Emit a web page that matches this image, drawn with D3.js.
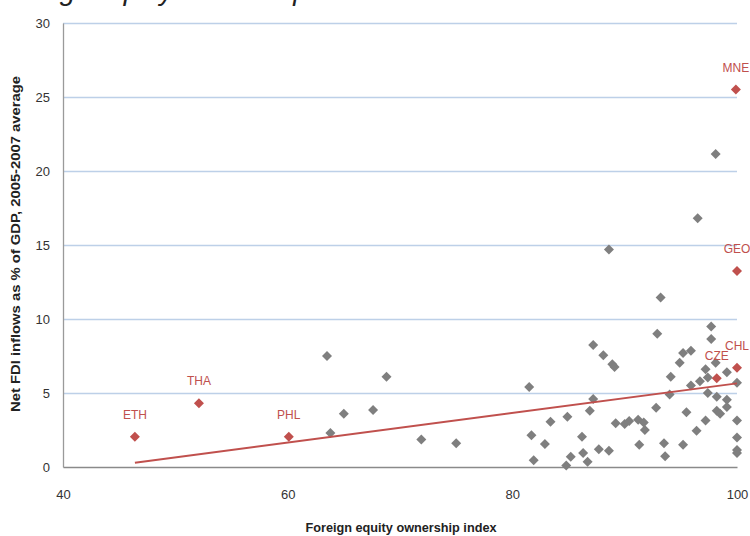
<!DOCTYPE html>
<html>
<head>
<meta charset="utf-8">
<script src="https://cdn.jsdelivr.net/npm/d3@7"></script>
<style>
  body { margin: 0; background: #fff; }
  svg { display: block; font-family: "Liberation Sans", Arial, sans-serif; }
</style>
</head>
<body>
<svg id="chart" width="750" height="536"></svg>
<script>
// foreign equity ownership index (x) vs net FDI inflows % of GDP (y)
const grayX = [63.5, 68.8, 65.0, 67.6, 63.8, 71.9, 75.0, 81.5, 81.7, 81.9, 82.9, 83.4, 84.9, 84.8, 85.2,
  86.2, 86.3, 86.7, 86.9, 87.2, 87.2, 87.7, 88.1, 88.6, 88.6, 88.9, 89.1, 89.2, 90.0, 90.4, 91.2, 91.7,
  91.8, 91.3, 92.8, 92.9, 93.2, 93.5, 93.6, 94.0, 94.1, 94.9, 95.2, 95.9, 95.2, 95.5, 95.9, 96.4, 96.5,
  96.7, 97.2, 97.2, 97.4, 97.4, 97.7, 97.7, 98.1, 98.1, 98.2, 98.2, 98.5, 99.1, 99.1, 99.1, 100, 100,
  100, 100, 100];
const grayY = [7.5, 6.1, 3.6, 3.85, 2.3, 1.85, 1.6, 5.4, 2.15, 0.45, 1.55, 3.05, 3.4, 0.1, 0.7,
  2.05, 0.95, 0.35, 3.8, 4.6, 8.25, 1.2, 7.55, 14.7, 1.1, 6.95, 6.75, 2.95, 2.9, 3.1, 3.2, 3.0,
  2.5, 1.5, 4.0, 9.0, 11.45, 1.6, 0.72, 4.9, 6.1, 7.05, 7.7, 7.85, 1.5, 3.7, 5.5, 2.45, 16.8,
  5.8, 6.6, 3.15, 6.05, 5.0, 9.5, 8.65, 21.15, 7.05, 4.75, 3.8, 3.6, 6.4, 4.55, 4.05, 5.7, 3.15,
  2.0, 1.15, 0.95];

const labelCodes = ['ETH', 'THA', 'PHL', 'CZE', 'CHL', 'GEO', 'MNE'];
const labelX = [46.4, 52.1, 60.1, 98.2, 100, 100, 99.9];
const labelY = [2.05, 4.3, 2.05, 6.0, 6.7, 13.25, 25.5];

// linear trend, drawn between its two end points
const trendX = [46.4, 100];
const trendY = [0.29, 5.65];

const yTicks = [0, 5, 10, 15, 20, 25, 30];
const xTicks = [40, 60, 80, 100];

const xTitle = 'Foreign equity ownership index';
const yTitle = 'Net FDI inflows as % of GDP, 2005-2007 average';
const chartTitle = 'Foreign equity ownership and FDI inflows';

const RED = '#c0504d';
const GRAY = '#7f7f7f';

const margin = {top: 23, right: 13, bottom: 69, left: 63};
const width = 750 - margin.left - margin.right;
const height = 536 - margin.top - margin.bottom;

const svg = d3.select('#chart');

// title is cut off at the top edge, only descenders show
svg.append('text')
    .attr('x', -4)
    .attr('y', 0)
    .attr('font-size', 28)
    .attr('font-style', 'italic')
    .attr('fill', '#222')
    .text(chartTitle);

const g = svg.append('g')
    .attr('transform', 'translate(' + margin.left + ',' + margin.top + ')');

const xScale = d3.scaleLinear().domain([40, 100]).range([0, width]);
const yScale = d3.scaleLinear().domain([0, 30]).range([height, 0]);

// gridlines
g.append('g')
    .call(d3.axisLeft(yScale).tickValues(yTicks.slice(1)).tickSize(-width).tickFormat(''))
    .call(s => s.select('.domain').remove())
    .selectAll('line')
    .attr('stroke', '#bdd0e8')
    .attr('stroke-width', 1.3);

// y axis
const yAxis = g.append('g')
    .call(d3.axisLeft(yScale).tickValues(yTicks).tickSize(0).tickPadding(13));
yAxis.select('.domain').attr('stroke', '#9a9a9a').attr('stroke-width', 1.3);
yAxis.selectAll('text').attr('font-size', 13).attr('fill', '#333')
    .attr('font-family', '"Liberation Sans", Arial, sans-serif');

// x axis
const xAxis = g.append('g')
    .attr('transform', 'translate(0,' + height + ')')
    .call(d3.axisBottom(xScale).tickValues(xTicks).tickSize(0).tickPadding(23));
xAxis.select('.domain').attr('stroke', '#8a8a8a').attr('stroke-width', 1.5);
xAxis.selectAll('text').attr('font-size', 13).attr('fill', '#333')
    .attr('font-family', '"Liberation Sans", Arial, sans-serif');

const diamond = d3.symbol().type(d3.symbolSquare).size(50);

g.selectAll('.dot.gray')
    .data(grayX)
  .enter().append('path')
    .attr('class', 'dot gray')
    .attr('d', diamond)
    .attr('fill', GRAY)
    .attr('transform', (d, i) => 'translate(' + xScale(d) + ',' + yScale(grayY[i]) + ') rotate(45)');

// trend line
const trendLine = d3.line()
    .x(d => xScale(d))
    .y((d, i) => yScale(trendY[i]));

g.append('path')
    .datum(trendX)
    .attr('d', trendLine)
    .attr('fill', 'none')
    .attr('stroke', RED)
    .attr('stroke-width', 2);

g.selectAll('.dot.red')
    .data(labelX)
  .enter().append('path')
    .attr('class', 'dot red')
    .attr('d', diamond)
    .attr('fill', RED)
    .attr('transform', (d, i) => 'translate(' + xScale(d) + ',' + yScale(labelY[i]) + ') rotate(45)');

g.selectAll('.code')
    .data(labelCodes)
  .enter().append('text')
    .attr('class', 'code')
    .attr('x', (d, i) => xScale(labelX[i]))
    .attr('y', (d, i) => yScale(labelY[i]) - 18)
    .attr('text-anchor', 'middle')
    .attr('font-size', 12)
    .attr('fill', RED)
    .text(d => d);

// axis titles
svg.append('text')
    .attr('x', 401)
    .attr('y', 532)
    .attr('text-anchor', 'middle')
    .attr('font-size', 12)
    .attr('font-weight', 'bold')
    .attr('fill', '#222')
    .attr('textLength', 191)
    .attr('lengthAdjust', 'spacingAndGlyphs')
    .text(xTitle);

svg.append('text')
    .attr('transform', 'translate(20,244) rotate(-90)')
    .attr('text-anchor', 'middle')
    .attr('font-size', 12)
    .attr('font-weight', 'bold')
    .attr('fill', '#222')
    .attr('textLength', 336)
    .attr('lengthAdjust', 'spacingAndGlyphs')
    .text(yTitle);
</script>
</body>
</html>
